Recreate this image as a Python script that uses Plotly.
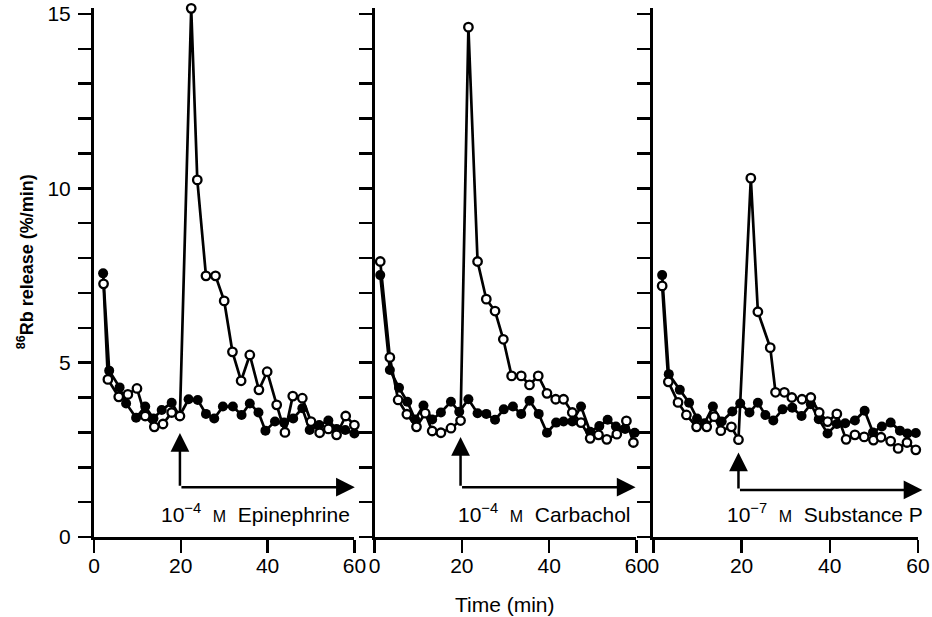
import plotly.graph_objects as go

# ---------------- data ----------------
# Panel 1: 10^-4 M Epinephrine
t1_open = [2.2, 3.2, 5.7, 7.8, 9.9, 11.8, 13.9, 15.9, 17.9, 19.8, 22.4, 23.8, 25.8, 28.0, 30.0,
           31.9, 33.9, 35.9, 38.0, 39.9, 42.1, 44.0, 45.8, 48.0, 50.0, 52.0, 54.0, 55.9, 58.0, 60.0]
v1_open = [7.26, 4.52, 4.02, 4.09, 4.26, 3.47, 3.16, 3.24, 3.57, 3.47, 15.16, 10.24, 7.49, 7.49, 6.77,
           5.31, 4.48, 5.22, 4.22, 4.74, 3.79, 3.0, 4.04, 3.98, 3.31, 2.99, 3.10, 2.93, 3.47, 3.21]
t1_fill = [2.1, 3.5, 5.9, 7.4, 9.7, 11.8, 13.7, 15.6, 17.9, 19.7, 21.8, 23.9, 25.8, 27.7, 29.7,
           32.0, 34.0, 35.9, 37.9, 39.5, 41.7, 43.8, 45.9, 48.0, 49.7, 51.9, 54.0, 55.9, 57.9, 60.0]
v1_fill = [7.56, 4.77, 4.29, 3.83, 3.42, 3.74, 3.4, 3.64, 3.85, 3.47, 3.95, 3.93, 3.53, 3.4, 3.74,
           3.74, 3.5, 3.83, 3.57, 3.05, 3.31, 3.28, 3.4, 3.69, 3.07, 3.21, 3.34, 3.1, 3.07, 2.97]

# Panel 2: 10^-4 M Carbachol
t2_open = [1.3, 3.5, 5.4, 7.4, 9.6, 11.6, 13.2, 15.2, 17.5, 19.7, 21.5, 23.6, 25.6, 27.6, 29.5,
           31.4, 33.6, 35.5, 37.5, 39.5, 41.5, 43.3, 45.3, 47.3, 49.4, 51.3, 53.2, 55.5, 57.7, 59.3]
v2_open = [7.9, 5.15, 3.93, 3.52, 3.16, 3.55, 3.04, 2.99, 3.12, 3.34, 14.62, 7.9, 6.82, 6.48, 5.67,
           4.62, 4.62, 4.36, 4.62, 4.12, 3.95, 3.95, 3.57, 3.28, 2.83, 2.93, 2.8, 2.95, 3.33, 2.71]
t2_fill = [1.3, 3.5, 5.6, 7.5, 9.3, 11.2, 13.2, 15.2, 17.5, 19.4, 21.5, 23.6, 25.6, 27.6, 29.6,
           31.7, 33.6, 35.5, 37.6, 39.5, 41.6, 43.3, 45.3, 47.3, 49.4, 51.5, 53.4, 55.3, 57.4, 59.6]
v2_fill = [7.51, 4.79, 4.28, 3.88, 3.37, 3.77, 3.37, 3.57, 3.88, 3.59, 3.95, 3.55, 3.53, 3.36, 3.66,
           3.74, 3.53, 3.91, 3.53, 2.99, 3.28, 3.31, 3.31, 3.74, 3.02, 3.18, 3.36, 3.17, 3.1, 2.99]

# Panel 3: 10^-7 M Substance P
t3_open = [2.0, 3.4, 5.6, 7.5, 9.8, 12.1, 13.8, 15.3, 17.7, 19.3, 22.1, 23.7, 26.5, 27.7, 29.7,
           31.4, 33.7, 35.7, 37.6, 39.5, 41.6, 43.7, 45.7, 47.8, 49.9, 51.6, 53.8, 55.5, 57.5, 59.5]
v3_open = [7.2, 4.45, 3.86, 3.5, 3.16, 3.16, 3.45, 3.05, 3.16, 2.79, 10.29, 6.46, 5.43, 4.15, 4.15,
           4.0, 3.95, 4.0, 3.57, 3.31, 3.53, 2.8, 2.93, 2.87, 2.78, 2.86, 2.75, 2.54, 2.71, 2.5]
t3_fill = [2.0, 3.5, 6.0, 8.1, 9.9, 11.6, 13.5, 15.5, 17.9, 19.7, 21.8, 23.7, 25.4, 27.2, 29.3,
           31.5, 33.6, 35.7, 37.5, 39.5, 41.6, 43.5, 45.7, 47.9, 49.8, 51.8, 53.8, 55.9, 57.6, 59.5]
v3_fill = [7.51, 4.67, 4.22, 3.85, 3.4, 3.26, 3.74, 3.31, 3.6, 3.83, 3.57, 3.85, 3.5, 3.34, 3.66,
           3.71, 3.47, 3.81, 3.38, 2.97, 3.24, 3.26, 3.34, 3.62, 3.0, 3.17, 3.28, 3.05, 2.97, 2.98]

agents = ["10<sup>\u22124</sup>  <span style='font-size:16px'>M</span>  Epinephrine",
          "10<sup>\u22124</sup>  <span style='font-size:16px'>M</span>  Carbachol",
          "10<sup>\u22127</sup>  <span style='font-size:16px'>M</span>  Substance P"]

x_ticks = [0, 20, 40, 60]
y_ticks = list(range(0, 16))
y_ticktext = [str(v) if v % 5 == 0 else "" for v in y_ticks]

# ---------------- figure ----------------
FONT = "Liberation Sans, Arial, Helvetica, sans-serif"
fig = go.Figure()

panels = [(t1_open, v1_open, t1_fill, v1_fill),
          (t2_open, v2_open, t2_fill, v2_fill),
          (t3_open, v3_open, t3_fill, v3_fill)]

for i, (to, vo, tf, vf) in enumerate(panels):
    xa = "x" if i == 0 else f"x{i+1}"
    ya = "y" if i == 0 else f"y{i+1}"
    fig.add_trace(go.Scatter(x=tf, y=vf, xaxis=xa, yaxis=ya, mode="lines+markers",
                             line=dict(color="black", width=2.7),
                             marker=dict(symbol="circle", size=10, color="black"),
                             cliponaxis=False, showlegend=False, hoverinfo="skip"))
    fig.add_trace(go.Scatter(x=to, y=vo, xaxis=xa, yaxis=ya, mode="lines+markers",
                             line=dict(color="black", width=2.7),
                             marker=dict(symbol="circle", size=8.5, color="white",
                                         line=dict(color="black", width=2.3)),
                             cliponaxis=False, showlegend=False, hoverinfo="skip"))

domains = [[0.0, 0.316], [0.3405, 0.6583], [0.6788, 1.0]]
axis_common = dict(showline=True, linewidth=3, linecolor="black", showgrid=False,
                   zeroline=False, ticks="outside", tickcolor="black", tickwidth=2.5,
                   automargin=False, ticklabeloverflow="allow",
                   tickfont=dict(family=FONT, size=21, color="black"))
for i in range(3):
    xk = "xaxis" if i == 0 else f"xaxis{i+1}"
    yk = "yaxis" if i == 0 else f"yaxis{i+1}"
    fig.layout[xk] = dict(domain=domains[i], range=[0, 60], tickvals=x_ticks,
                          ticklen=13, ticklabelstandoff=-5,
                          anchor="y" if i == 0 else f"y{i+1}", **axis_common)
    fig.layout[yk] = dict(domain=[0, 1], range=[0, 15.17], tickvals=y_ticks,
                          ticktext=y_ticktext, showticklabels=(i == 0),
                          ticklen=13, ticklabelstandoff=3,
                          anchor="x" if i == 0 else f"x{i+1}", **axis_common)

# arrows and agent labels
arrow_x = [19.8, 19.7, 19.3]
arrow_top = [2.98, 2.87, 2.42]
arrow_base = [1.43, 1.43, 1.35]
arrow_end = [60.1, 59.8, 61.0]
text_shift = [-2, -3, 7]
for i in range(3):
    xr = "x" if i == 0 else f"x{i+1}"
    yr = "y" if i == 0 else f"y{i+1}"
    fig.add_annotation(x=arrow_x[i], y=arrow_top[i], ax=arrow_x[i], ay=arrow_base[i],
                       xref=xr, yref=yr, axref=xr, ayref=yr, text="", showarrow=True,
                       arrowhead=2, arrowsize=1.5, arrowwidth=2.5, arrowcolor="black", standoff=0)
    fig.add_annotation(x=arrow_end[i], y=arrow_base[i], ax=arrow_x[i], ay=arrow_base[i],
                       xref=xr, yref=yr, axref=xr, ayref=yr, text="", showarrow=True,
                       arrowhead=2, arrowsize=1.5, arrowwidth=2.5, arrowcolor="black", standoff=0)
    fig.add_annotation(x=60, y=0.69, xref=xr, yref=yr, text=agents[i], xshift=text_shift[i],
                       showarrow=False, xanchor="right", yanchor="middle",
                       font=dict(family=FONT, size=21, color="black"))

# axis titles
fig.add_annotation(x=-0.082, y=0.52, xref="paper", yref="paper",
                   text="<b><sup>86</sup>Rb release (%/min)</b>", textangle=-90,
                   showarrow=False, xanchor="center", yanchor="middle",
                   font=dict(family=FONT, size=18, color="black"))
fig.add_annotation(x=0.4988, y=-0.127, xref="paper", yref="paper", text="Time (min)",
                   showarrow=False, xanchor="center", yanchor="middle",
                   font=dict(family=FONT, size=21, color="black"))

fig.update_layout(template="none", width=932, height=617,
                  margin=dict(l=94, r=14, t=8, b=80, autoexpand=False),
                  paper_bgcolor="white", plot_bgcolor="white", hovermode=False,
                  font=dict(family=FONT, color="black"))

# remove the default page margin so the figure sits at the window's top-left corner
fig.write_html("out.html", config={"displayModeBar": False, "staticPlot": True},
               post_script="document.body.style.margin='0';")
